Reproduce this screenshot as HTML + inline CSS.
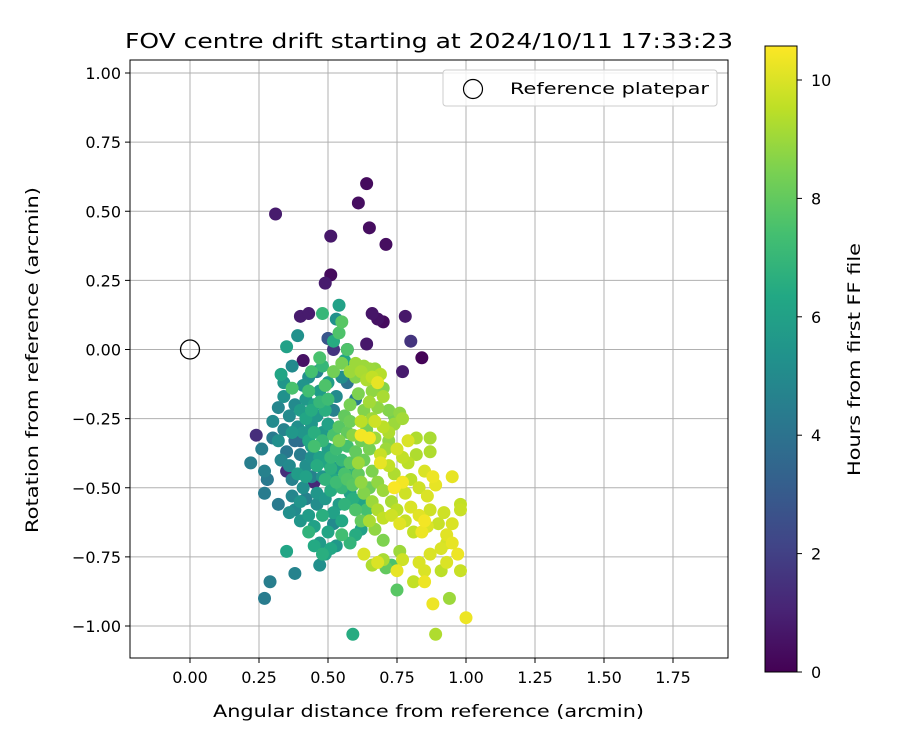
<!DOCTYPE html>
<html><head><meta charset="utf-8"><style>
body{margin:0;background:#fff}
svg text{font-family:"DejaVu Sans","Liberation Sans",sans-serif;fill:#000}
</style></head><body>
<svg id="chart" width="900" height="750" xmlns="http://www.w3.org/2000/svg">
<defs><linearGradient id="vir" x1="0" y1="1" x2="0" y2="0">
<stop offset="0" stop-color="#440154"/><stop offset="0.1" stop-color="#482475"/><stop offset="0.2" stop-color="#414487"/><stop offset="0.3" stop-color="#355f8d"/><stop offset="0.4" stop-color="#2a788e"/><stop offset="0.5" stop-color="#21918c"/><stop offset="0.6" stop-color="#22a884"/><stop offset="0.7" stop-color="#44bf70"/><stop offset="0.8" stop-color="#7ad151"/><stop offset="0.9" stop-color="#bddf26"/><stop offset="1" stop-color="#fde725"/>
</linearGradient></defs>
<text x="125" y="48" font-size="20" textLength="608" lengthAdjust="spacingAndGlyphs">FOV centre drift starting at 2024/10/11 17:33:23</text>
<g id="grid"></g>
<g id="pts"></g>
<rect x="130" y="60" width="598" height="598" fill="none" stroke="#000" stroke-width="1"/>
<g id="ticks"></g>
<text x="213" y="717" font-size="16.5" textLength="431" lengthAdjust="spacingAndGlyphs">Angular distance from reference (arcmin)</text>
<text transform="translate(38,533) rotate(-90)" font-size="16.5" textLength="346" lengthAdjust="spacingAndGlyphs">Rotation from reference (arcmin)</text>
<g>
<rect x="443" y="70" width="274" height="36" rx="3" fill="#fff" fill-opacity="0.8" stroke="#ccc"/>
<circle cx="473" cy="89" r="9.5" fill="none" stroke="#000" stroke-width="1.2"/>
<text x="510" y="94" font-size="16" textLength="199" lengthAdjust="spacingAndGlyphs">Reference platepar</text>
</g>
<rect x="765" y="46" width="32" height="626" fill="url(#vir)" stroke="#000" stroke-width="1"/>
<g id="cbticks"></g>
<text transform="translate(860,476) rotate(-90)" font-size="16.5" textLength="233" lengthAdjust="spacingAndGlyphs">Hours from first FF file</text>
</svg>
<script>
const xTicks=[0,0.25,0.5,0.75,1,1.25,1.5,1.75];
const yTicks=[1,0.75,0.5,0.25,0,-0.25,-0.5,-0.75,-1];
const cbTicks=[0,2,4,6,8,10];
const refPoint=[0,0];
const pts=[[0.31,0.49,0.8],[0.64,0.60,0.3],[0.61,0.53,0.4],[0.65,0.44,0.4],[0.51,0.41,0.7],[0.71,0.38,0.4],[0.51,0.27,0.3],[0.49,0.24,0.8],[0.40,0.12,0.8],[0.43,0.13,0.8],[0.66,0.13,0.6],[0.68,0.11,0.5],[0.70,0.10,0.3],[0.78,0.12,0.7],[0.80,0.03,1.6],[0.84,-0.03,0.1],[0.77,-0.08,0.8],[0.64,0.02,0.7],[0.41,-0.04,0.5],[0.52,0.0,1.6],[0.57,0.0,1.2],[0.50,0.04,2.0],[0.24,-0.31,1.4],[0.35,-0.44,1.4],[0.45,-0.48,1.2],[0.28,-0.47,1.5],
[0.22,-0.41,4.5],[0.27,-0.44,4.6],[0.28,-0.47,4.3],[0.27,-0.52,4.4],[0.32,-0.56,4.3],[0.29,-0.84,4.5],[0.27,-0.90,4.4],[0.38,-0.81,4.7],[0.35,-0.73,6.2],[0.59,-1.03,6.5],[0.26,-0.36,4.5],[0.30,-0.32,4.3],[0.32,-0.21,4.8],[0.30,-0.26,5.0],[0.35,-0.37,4.2],[0.37,-0.53,4.8],[0.36,-0.59,5.2],[0.40,-0.55,5.4],[0.41,-0.50,5.2],[0.34,-0.17,5.3],[0.34,-0.12,5.5],[0.33,-0.09,6.2],[0.35,0.01,6.0],[0.39,0.05,5.3],[0.37,-0.06,5.0],[0.38,-0.20,5.0],[0.39,-0.28,5.2],[0.38,-0.33,3.8],[0.40,-0.38,4.4],[0.42,-0.42,5.2],[0.44,-0.46,4.6],[0.46,-0.52,5.5],[0.43,-0.60,5.8],[0.45,-0.64,6.0],[0.47,-0.70,5.7],[0.49,-0.74,6.0],[0.50,-0.66,6.2],[0.52,-0.59,6.0],[0.55,-0.62,6.3],[0.54,-0.56,5.8],[0.48,-0.60,6.6],[0.45,-0.71,6.4],[0.48,-0.74,6.6],[0.43,-0.66,6.8],[0.58,-0.70,6.9],[0.60,-0.67,6.5],[0.62,-0.65,6.0],[0.62,-0.55,6.2],[0.59,-0.54,6.6],[0.44,-0.27,5.5],[0.46,-0.24,5.6],[0.45,-0.20,6.0],[0.47,-0.15,5.8],[0.46,-0.08,4.7],[0.43,-0.10,5.3],[0.41,-0.13,5.4],[0.42,-0.18,5.6],[0.48,-0.30,5.7],[0.50,-0.36,5.9],[0.47,-0.39,6.0],[0.44,-0.35,5.9],[0.41,-0.30,5.5],[0.50,-0.27,6.0],[0.52,-0.22,4.6],[0.53,-0.17,5.0],[0.55,-0.10,5.2],[0.50,-0.12,5.8],[0.56,-0.04,6.1],[0.54,0.16,6.0],[0.48,0.13,7.0],[0.53,0.11,5.3],[0.50,0.04,2.8],[0.54,0.06,7.6],[0.55,0.10,7.8],[0.52,0.03,6.5],[0.57,0.00,7.6],[0.47,-0.03,7.5],[0.44,-0.08,7.4],[0.48,-0.06,7.0],[0.37,-0.14,7.5],[0.43,-0.15,7.3],[0.49,-0.13,7.6],[0.52,-0.08,8.3],[0.55,-0.05,8.4],[0.57,-0.12,4.0],[0.60,-0.10,8.6],[0.60,-0.18,4.3],[0.62,-0.08,9.2],[0.63,-0.06,9.0],[0.65,-0.07,9.0],[0.64,-0.11,9.3],[0.67,-0.07,8.9],[0.66,-0.15,8.8],[0.61,-0.16,8.5],[0.58,-0.20,8.4],[0.56,-0.24,8.0],[0.54,-0.28,7.8],[0.52,-0.31,7.5],[0.53,-0.36,7.2],[0.55,-0.40,7.0],[0.51,-0.43,6.7],[0.49,-0.47,6.8],[0.51,-0.51,6.5],[0.53,-0.48,7.2],[0.56,-0.45,7.5],[0.58,-0.41,7.8],[0.60,-0.37,8.0],[0.62,-0.33,8.2],[0.64,-0.29,8.4],[0.63,-0.22,8.6],[0.66,-0.25,9.0],[0.68,-0.21,8.8],[0.70,-0.17,9.2],[0.68,-0.12,10.2],[0.72,-0.22,8.6],[0.70,-0.28,9.5],[0.67,-0.32,9.0],[0.65,-0.36,8.4],[0.69,-0.38,9.7],[0.72,-0.33,8.8],[0.74,-0.27,9.0],[0.76,-0.23,8.8],[0.77,-0.25,9.1],[0.72,-0.42,9.6],[0.74,-0.45,9.3],[0.77,-0.39,9.6],[0.79,-0.33,10.0],[0.82,-0.32,9.3],[0.82,-0.38,9.3],[0.87,-0.32,9.2],[0.87,-0.37,9.3],[0.85,-0.44,10.0],[0.88,-0.46,10.3],[0.89,-0.49,10.2],[0.86,-0.53,10.0],[0.83,-0.50,9.8],[0.80,-0.47,9.5],[0.78,-0.52,9.8],[0.80,-0.57,10.0],[0.83,-0.60,10.1],[0.85,-0.62,10.4],[0.87,-0.58,9.8],[0.84,-0.66,10.3],[0.86,-0.64,10.0],[0.81,-0.66,9.6],[0.78,-0.62,9.7],[0.75,-0.58,9.5],[0.73,-0.55,9.2],[0.70,-0.51,9.0],[0.68,-0.48,8.8],[0.66,-0.44,8.5],[0.63,-0.40,8.2],[0.61,-0.45,8.0],[0.59,-0.49,7.8],[0.63,-0.52,8.6],[0.66,-0.55,9.0],[0.68,-0.58,9.3],[0.70,-0.61,9.6],[0.65,-0.62,9.2],[0.67,-0.65,8.8],[0.70,-0.69,8.5],[0.70,-0.76,9.2],[0.73,-0.78,7.5],[0.66,-0.78,9.3],[0.68,-0.77,10.0],[0.63,-0.74,10.0],[0.76,-0.73,9.0],[0.77,-0.76,9.8],[0.75,-0.80,10.2],[0.81,-0.84,9.6],[0.83,-0.77,10.0],[0.85,-0.80,10.0],[0.85,-0.84,10.3],[0.88,-0.92,10.3],[0.87,-0.74,10.0],[0.91,-0.72,10.0],[0.93,-0.70,9.9],[0.95,-0.70,10.2],[0.91,-0.80,9.5],[0.93,-0.77,10.0],[0.97,-0.74,10.3],[0.98,-0.80,9.7],[0.94,-0.90,9.0],[0.89,-1.03,9.3],[1.00,-0.97,10.3],[0.95,-0.46,10.2],[0.98,-0.56,9.6],[0.98,-0.58,9.7],[0.92,-0.59,9.8],[0.90,-0.63,9.7],[0.95,-0.63,10.0],[0.93,-0.67,10.1],[0.75,-0.87,7.8],[0.71,-0.79,8.0],[0.79,-0.41,9.5],[0.74,-0.50,10.5],[0.77,-0.48,10.4],[0.75,-0.36,9.9],[0.72,-0.30,9.3],[0.73,-0.60,9.8],[0.76,-0.63,10.1],[0.69,-0.41,10.2],[0.62,-0.31,10.4],[0.67,-0.26,9.8],[0.70,-0.14,8.6],[0.74,-0.24,8.4],[0.58,-0.08,9.0],[0.60,-0.45,7.0],[0.57,-0.35,7.4],[0.57,-0.30,8.0],[0.54,-0.33,8.5],[0.56,-0.43,5.5],[0.58,-0.52,6.0],[0.60,-0.58,7.6],[0.62,-0.62,8.0],[0.55,-0.67,7.3],[0.53,-0.71,5.6],[0.51,-0.72,6.3],[0.47,-0.78,5.2],[0.40,-0.62,5.5],[0.38,-0.58,5.0],[0.42,-0.54,4.6],[0.46,-0.56,5.1],[0.49,-0.54,5.6],[0.52,-0.63,5.0],[0.56,-0.56,6.8],[0.64,-0.58,7.4],[0.65,-0.50,8.2],[0.62,-0.48,8.8],[0.61,-0.41,9.0],[0.58,-0.26,8.2],[0.59,-0.31,8.7],[0.51,-0.39,7.0],[0.46,-0.42,6.5],[0.44,-0.39,5.3],[0.42,-0.46,6.0],[0.39,-0.45,5.8],[0.36,-0.42,5.0],[0.37,-0.47,4.6],[0.33,-0.40,4.8],[0.32,-0.33,5.2],[0.34,-0.29,4.7],[0.36,-0.24,5.0],[0.37,-0.30,5.6],[0.40,-0.22,5.8],[0.42,-0.25,6.2],[0.44,-0.22,6.5],[0.47,-0.19,7.0],[0.50,-0.18,7.2],[0.49,-0.22,6.6],[0.45,-0.30,6.6],[0.43,-0.33,6.3],[0.45,-0.35,7.4],[0.48,-0.33,7.0],[0.50,-0.41,6.2],[0.53,-0.43,5.8],[0.48,-0.46,5.4],[0.52,-0.47,6.4],[0.55,-0.50,7.0],[0.57,-0.47,7.7],[0.62,-0.26,9.5],[0.66,-0.10,9.6],[0.69,-0.09,9.4],[0.65,-0.19,9.1],[0.65,-0.32,10.4],[0.71,-0.36,9.0],[0.60,-0.05,9.0],[0.40,-0.33,3.6]];
const xVals=pts.map(p=>p[0]);
const yVals=pts.map(p=>p[1]);
const hours=pts.map(p=>p[2]);
const NS='http://www.w3.org/2000/svg';
const L=130,R=728,T=60,B=658;
const X=v=>190+v*276;
const Y=v=>349.5-v*276.5;
const CB=v=>672-v*59.2;
const stops=[[68,1,84],[72,36,117],[65,68,135],[53,95,141],[42,120,142],[33,145,140],[34,168,132],[68,191,112],[122,209,81],[189,223,38],[253,231,37]];
function vir(h){let t=Math.max(0,Math.min(1,h/10.57))*10;let i=Math.min(9,Math.floor(t)),f=t-i;const a=stops[i],b=stops[i+1];return 'rgb('+a.map((c,k)=>Math.round(c+(b[k]-c)*f)).join(',')+')';}
function mk(tag,at,par){const e=document.createElementNS(NS,tag);for(const k in at)e.setAttribute(k,at[k]);document.getElementById(par).appendChild(e);return e;}
xTicks.forEach(v=>{
 const g=mk('line',{x1:X(v),x2:X(v),y1:T,y2:B,stroke:'#b0b0b0','stroke-width':1},'grid');
 
 
 const t=mk('line',{x1:X(v),x2:X(v),y1:B,y2:B+5,stroke:'#000'},'ticks');
 
 
 const l=mk('text',{x:X(v),y:B+25,'font-size':16,'text-anchor':'middle'},'ticks');l.textContent=v.toFixed(2);
 
 
});
yTicks.forEach(v=>{
 const g=mk('line',{x1:L,x2:R,y1:Y(v),y2:Y(v),stroke:'#b0b0b0','stroke-width':1},'grid');
 
 
 const t=mk('line',{x1:L-5,x2:L,y1:Y(v),y2:Y(v),stroke:'#000'},'ticks');
 
 
 const l=mk('text',{x:L-9,y:Y(v)+6,'font-size':16,'text-anchor':'end'},'ticks');l.textContent=(v<0?'\u2212':'')+Math.abs(v).toFixed(2);
 
 
});
const order=hours.map((h,i)=>i).sort((a,b)=>hours[a]-hours[b]);
order.forEach(i=>{
 const c=mk('circle',{cx:X(xVals[i]),cy:Y(yVals[i]),r:6.5,fill:vir(hours[i])},'pts');
 
 
});
const ref=mk('circle',{cx:X(refPoint[0]),cy:Y(refPoint[1]),r:9.5,fill:'none',stroke:'#000','stroke-width':1.3},'pts');


cbTicks.forEach(v=>{
 const t=mk('line',{x1:797,x2:802,y1:CB(v),y2:CB(v),stroke:'#000'},'cbticks');
 
 
 const l=mk('text',{x:811,y:CB(v)+6,'font-size':16},'cbticks');l.textContent=v;
 
 
});
</script>
</body></html>
